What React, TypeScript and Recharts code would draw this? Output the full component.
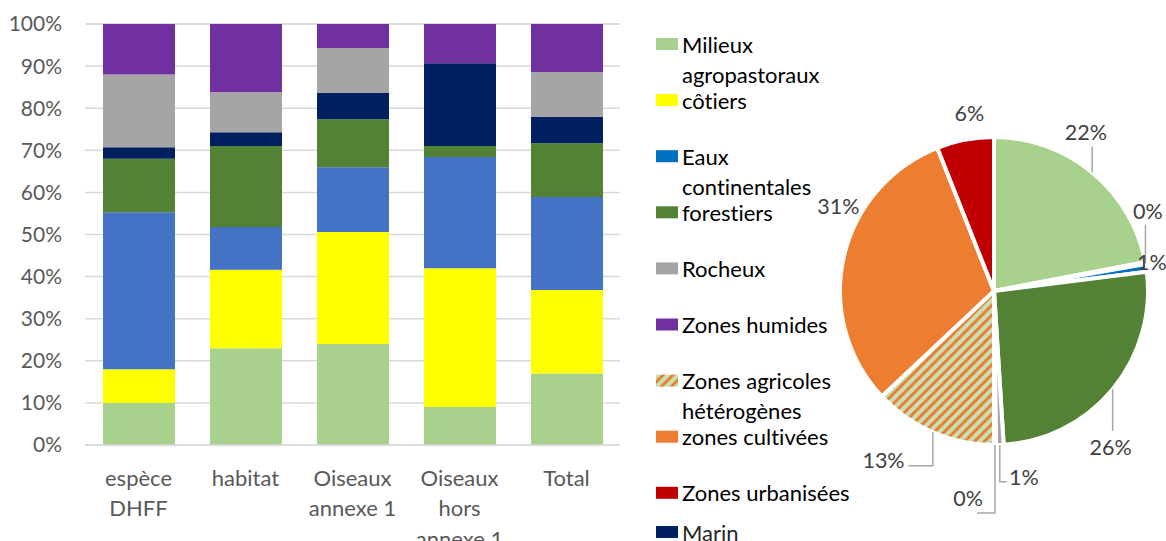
import React from 'react'
import { BarChart, Bar, XAxis, YAxis, CartesianGrid, PieChart, Pie, Cell } from 'recharts'

// stacked bars, percent of each column
const categories = ['espèce DHFF', 'habitat', 'Oiseaux annexe 1', 'Oiseaux hors annexe 1', 'Total']
const agropastoraux = [10, 23, 24, 9, 17]
const cotiers = [8, 18.6, 26.6, 33, 19.8]
const eauxContinentales = [37.3, 10.2, 15.4, 26.4, 22.1]
const forestiers = [12.7, 19.2, 11.4, 2.6, 12.8]
const marin = [2.7, 3.3, 6.2, 19.7, 6.2]
const rocheux = [17.3, 9.5, 10.7, 0, 10.7]
const zonesHumides = [12, 16.2, 5.7, 9.3, 11.4]
const yTicks = [0, 10, 20, 30, 40, 50, 60, 70, 80, 90, 100]

// pie, clockwise from 12 o'clock
const pieNames = [
  'Milieux agropastoraux',
  'côtiers',
  'Eaux continentales',
  'forestiers',
  'Rocheux',
  'Zones humides',
  'Zones agricoles hétérogènes',
  'zones cultivées',
  'Zones urbanisées',
]
const pieValues = [22, 0.2, 0.8, 26, 0.8, 0.2, 13, 31, 6]

const legendNames = [
  'Milieux agropastoraux',
  'côtiers',
  'Eaux continentales',
  'forestiers',
  'Rocheux',
  'Zones humides',
  'Zones agricoles hétérogènes',
  'zones cultivées',
  'Zones urbanisées',
  'Marin',
]

const FONT = 'Lato, "Noto Sans", sans-serif'
const HATCH = 'url(#agriHatch)'

const COLORS: Record<string, string> = {
  'Milieux agropastoraux': '#A9D18E',
  'côtiers': '#FFFF00',
  'Eaux continentales': '#0070C0',
  'forestiers': '#548235',
  'Rocheux': '#A5A5A5',
  'Zones humides': '#7030A0',
  'Zones agricoles hétérogènes': HATCH,
  'zones cultivées': '#ED7D31',
  'Zones urbanisées': '#C00000',
  'Marin': '#002060',
}

const barSeries = [
  { key: 'agropastoraux', values: agropastoraux, color: '#A9D18E' },
  { key: 'cotiers', values: cotiers, color: '#FFFF00' },
  { key: 'eaux', values: eauxContinentales, color: '#4472C4' },
  { key: 'forestiers', values: forestiers, color: '#548235' },
  { key: 'marin', values: marin, color: '#002060' },
  { key: 'rocheux', values: rocheux, color: '#A5A5A5' },
  { key: 'humides', values: zonesHumides, color: '#7030A0' },
]

const barData = categories.map((name, i) => {
  const row: Record<string, any> = { name }
  barSeries.forEach((s) => (row[s.key] = s.values[i]))
  return row
})

const pieData = pieNames.map((name, i) => ({ name, value: pieValues[i] }))

// label placement around the pie (offsets from the radial spot)
const labelNudge = [[-26, -16], [-28, -46], [-25, -1], [-26, 38], [23, 1], [-27, 22], [-37, -1], [25, -45], [10, 4]]
const leaders: (null | { kind: string; ty: number; tx?: number })[] = [
  { kind: 'v', ty: 14 },
  { kind: 'v', ty: 13 },
  null,
  { kind: 'v', ty: -16 },
  { kind: 'elbow', ty: 5, tx: -17 },
  { kind: 'elbow', ty: 15, tx: 9 },
  { kind: 'elbow', ty: 6, tx: 25 },
  null,
  null,
]

function wrap(text: string, max: number) {
  const words = text.split(' ')
  const lines: string[] = []
  let cur = ''
  words.forEach((w) => {
    const next = cur ? cur + ' ' + w : w
    if (next.length > max && cur) {
      lines.push(cur)
      cur = w
    } else cur = next
  })
  if (cur) lines.push(cur)
  return lines
}

const CategoryTick = (props: any) => {
  const { x, y, payload } = props
  const lines = wrap(payload.value, 9)
  return (
    <g>
      {lines.map((l, i) => (
        <text
          key={i}
          x={x}
          y={y + 32 + i * 30.5}
          textAnchor="middle"
          dominantBaseline="central"
          fill="#595959"
          fontSize={22}
          fontFamily={FONT}
        >
          {l}
        </text>
      ))}
    </g>
  )
}

const RAD = Math.PI / 180
const polar = (cx: number, cy: number, r: number, a: number) => ({
  x: cx + r * Math.cos(-a * RAD),
  y: cy + r * Math.sin(-a * RAD),
})

const renderPieLabel = (props: any) => {
  const { cx, cy, midAngle, outerRadius, percent, index } = props
  const base = polar(cx, cy, outerRadius + 31, midAngle)
  const lx = base.x + labelNudge[index][0]
  const ly = base.y + labelNudge[index][1]
  const edge = polar(cx, cy, outerRadius, midAngle)
  const ld = leaders[index]
  let path = ''
  if (ld && ld.kind === 'v') path = `M${edge.x},${edge.y}L${edge.x},${ly + ld.ty}`
  if (ld && ld.kind === 'elbow')
    path = `M${edge.x},${edge.y}L${edge.x},${ly + ld.ty}L${lx + (ld.tx || 0)},${ly + ld.ty}`
  return (
    <g key={'lbl' + index}>
      {path && <path d={path} stroke="#A6A6A6" strokeWidth={1.5} fill="none" />}
      <text
        x={lx}
        y={ly}
        textAnchor="middle"
        dominantBaseline="central"
        fill="#404040"
        fontSize={21.5}
        fontFamily={FONT}
      >
        {Math.round(percent * 100) + '%'}
      </text>
    </g>
  )
}

const Legend = () => {
  return (
    <svg width={200} height={541} style={{ position: 'absolute', left: 640, top: 0, overflow: 'visible' }}>
      <defs>
        <pattern id="agriHatch" patternUnits="userSpaceOnUse" width={7} height={7} patternTransform="rotate(45)">
          <rect x={0} y={0} width={7} height={7} fill="#C5E0B4" />
          <rect x={0} y={0} width={3} height={7} fill="#ED7D31" />
        </pattern>
      </defs>
      {legendNames.map((name, i) => {
        const yc = i < 9 ? 44 + i * 56.1 : 532
        const lines = wrap(name, 16)
        return (
          <g key={name}>
            <rect x={16} y={yc - 6} width={22} height={12} fill={COLORS[name]} />
            {lines.map((l, j) => (
              <text
                key={j}
                x={42}
                y={yc + j * 30}
                dominantBaseline="central"
                fill={name === 'Marin' ? '#262626' : '#000'}
                fontSize={22}
                fontFamily={FONT}
              >
                {l}
              </text>
            ))}
          </g>
        )
      })}
    </svg>
  )
}

export default function App() {
  return (
    <div
      style={{
        position: 'relative',
        width: 1166,
        height: 541,
        background: '#fff',
        overflow: 'hidden',
        fontVariantLigatures: 'none',
      }}
    >
      <style>{'body{margin:0} svg text{font-variant-ligatures:none}'}</style>
      <div style={{ position: 'absolute', left: 0, top: 0 }}>
        <BarChart width={630} height={541} data={barData} margin={{ top: 24, right: 10, left: 0, bottom: 0 }}>
          <CartesianGrid vertical={false} stroke="#D9D9D9" strokeWidth={1.5} />
          <XAxis
            dataKey="name"
            height={96}
            tickLine={false}
            tickSize={0}
            tickMargin={0}
            axisLine={{ stroke: '#D9D9D9', strokeWidth: 1.5 }}
            tick={<CategoryTick />}
            interval={0}
          />
          <YAxis
            width={85}
            domain={[0, 100]}
            ticks={yTicks}
            axisLine={false}
            tickLine={false}
            tickSize={0}
            tickMargin={23}
            tickFormatter={(v: number) => v + '%'}
            tick={{ fill: '#595959', fontSize: 21, fontFamily: FONT }}
          />
          {barSeries.map((s) => (
            <Bar key={s.key} dataKey={s.key} stackId="a" fill={s.color} barSize={72} isAnimationActive={false} />
          ))}
        </BarChart>
      </div>
      <div style={{ position: 'absolute', left: 800, top: 0 }}>
        <PieChart width={366} height={541} margin={{ top: 0, right: 0, left: 0, bottom: 0 }}>
          <Pie
            data={pieData}
            dataKey="value"
            nameKey="name"
            cx={194}
            cy={291}
            outerRadius={154}
            startAngle={90}
            endAngle={-270}
            stroke="#fff"
            strokeWidth={4}
            label={renderPieLabel}
            labelLine={false}
            isAnimationActive={false}
          >
            {pieData.map((d, i) => (
              <Cell key={i} fill={COLORS[d.name]} />
            ))}
          </Pie>
        </PieChart>
      </div>
      <Legend />
    </div>
  )
}
